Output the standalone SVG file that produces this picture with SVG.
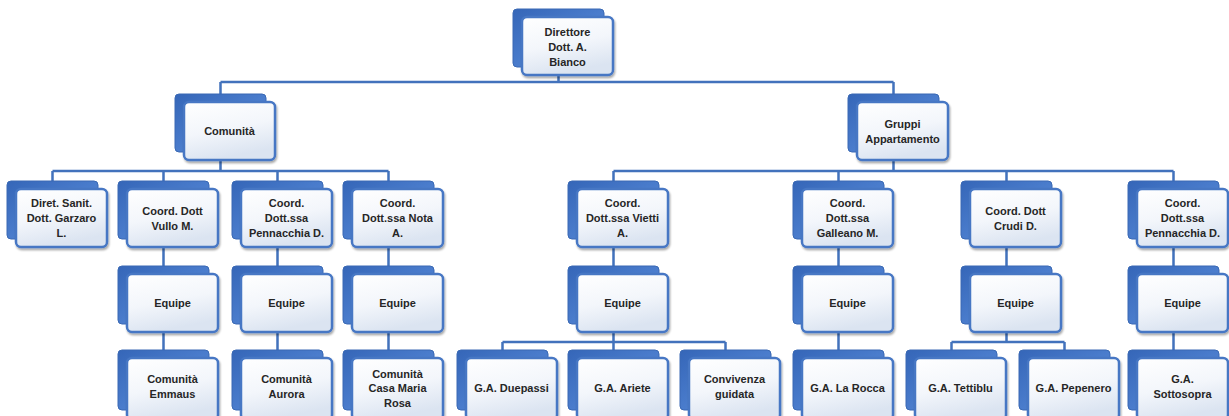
<svg xmlns="http://www.w3.org/2000/svg" width="1229" height="416" viewBox="0 0 1229 416">
<defs>
<linearGradient id="gBack" x1="0" y1="0" x2="1" y2="1">
<stop offset="0" stop-color="#3566b8"/>
<stop offset="0.5" stop-color="#4a7ccc"/>
<stop offset="1" stop-color="#5f8ed8"/>
</linearGradient>
<linearGradient id="gFront" x1="0" y1="0" x2="0.3" y2="1">
<stop offset="0" stop-color="#ffffff"/>
<stop offset="0.55" stop-color="#f3f6fb"/>
<stop offset="1" stop-color="#dbe4f1"/>
</linearGradient>
<filter id="sh" x="-10%" y="-10%" width="130%" height="130%">
<feGaussianBlur in="SourceAlpha" stdDeviation="1.2"/>
<feOffset dx="1" dy="1.5" result="b"/>
<feComponentTransfer><feFuncA type="linear" slope="0.35"/></feComponentTransfer>
<feMerge><feMergeNode/><feMergeNode in="SourceGraphic"/></feMerge>
</filter>
</defs>
<style>
.back{fill:url(#gBack);stroke:#3a69b4;stroke-width:1}
.front{fill:url(#gFront);stroke:#4677c4;stroke-width:2.5;filter:url(#sh)}
.t{font-family:"Liberation Sans",Arial,sans-serif;font-size:11px;font-weight:bold;fill:#262626;text-anchor:middle}
.c{fill:none;stroke:#4272bc;stroke-width:2.5}
</style>
<rect width="1229" height="416" fill="#ffffff"/>
<g id="connectors">
<path class="c" d="M558.5 75V82M220.5 82H893.5M220.5 82V95M893.5 82V95"/>
<path class="c" d="M220.5 160V171M52.5 171H388.5M52.5 171V182M163.5 171V182M277.5 171V182M388.5 171V182"/>
<path class="c" d="M893.5 160V171M613.5 171H1173.5M613.5 171V182M838.5 171V182M1006.5 171V182M1173.5 171V182"/>
<path class="c" d="M163.5 247V267M277.5 247V267M388.5 247V267M613.5 247V267M838.5 247V267M1006.5 247V267M1173.5 247V267"/>
<path class="c" d="M163.5 332V351M277.5 332V351M388.5 332V351M838.5 332V351M1173.5 332V351"/>
<path class="c" d="M613.5 332V342M502.5 342H725.5M502.5 342V351M613.5 342V351M725.5 342V351"/>
<path class="c" d="M1006.5 332V342M951.5 342H1064.5M951.5 342V351M1064.5 342V351"/>
</g>
<g id="n-direttore"><rect class="back" x="513" y="9" width="91" height="58" rx="4"/><rect class="front" x="522" y="17" width="91" height="58" rx="5"/><text class="t" x="567.5" y="36">Direttore</text><text class="t" x="567.5" y="51">Dott. A.</text><text class="t" x="567.5" y="66">Bianco</text></g>
<g id="n-comunita"><rect class="back" x="175" y="94" width="91" height="58" rx="4"/><rect class="front" x="184" y="102" width="91" height="58" rx="5"/><text class="t" x="229.5" y="135">Comunità</text></g>
<g id="n-gruppi"><rect class="back" x="848" y="94" width="91" height="58" rx="4"/><rect class="front" x="857" y="102" width="91" height="58" rx="5"/><text class="t" x="902.5" y="128">Gruppi</text><text class="t" x="902.5" y="143">Appartamento</text></g>
<g id="n-garzaro"><rect class="back" x="7" y="181" width="91" height="58" rx="4"/><rect class="front" x="16" y="189" width="91" height="58" rx="5"/><text class="t" x="61.5" y="207">Diret. Sanit.</text><text class="t" x="61.5" y="222">Dott. Garzaro</text><text class="t" x="61.5" y="237">L.</text></g>
<g id="n-vullo"><rect class="back" x="118" y="181" width="91" height="58" rx="4"/><rect class="front" x="127" y="189" width="91" height="58" rx="5"/><text class="t" x="172.5" y="214.5">Coord. Dott</text><text class="t" x="172.5" y="229.5">Vullo M.</text></g>
<g id="n-pennacchia1"><rect class="back" x="232" y="181" width="91" height="58" rx="4"/><rect class="front" x="241" y="189" width="91" height="58" rx="5"/><text class="t" x="286.5" y="207">Coord.</text><text class="t" x="286.5" y="222">Dott.ssa</text><text class="t" x="286.5" y="237">Pennacchia D.</text></g>
<g id="n-nota"><rect class="back" x="343" y="181" width="91" height="58" rx="4"/><rect class="front" x="352" y="189" width="91" height="58" rx="5"/><text class="t" x="397.5" y="207">Coord.</text><text class="t" x="397.5" y="222">Dott.ssa Nota</text><text class="t" x="397.5" y="237">A.</text></g>
<g id="n-vietti"><rect class="back" x="568" y="181" width="91" height="58" rx="4"/><rect class="front" x="577" y="189" width="91" height="58" rx="5"/><text class="t" x="622.5" y="207">Coord.</text><text class="t" x="622.5" y="222">Dott.ssa Vietti</text><text class="t" x="622.5" y="237">A.</text></g>
<g id="n-galleano"><rect class="back" x="793" y="181" width="91" height="58" rx="4"/><rect class="front" x="802" y="189" width="91" height="58" rx="5"/><text class="t" x="847.5" y="207">Coord.</text><text class="t" x="847.5" y="222">Dott.ssa</text><text class="t" x="847.5" y="237">Galleano M.</text></g>
<g id="n-crudi"><rect class="back" x="961" y="181" width="91" height="58" rx="4"/><rect class="front" x="970" y="189" width="91" height="58" rx="5"/><text class="t" x="1015.5" y="214.5">Coord. Dott</text><text class="t" x="1015.5" y="229.5">Crudi D.</text></g>
<g id="n-pennacchia2"><rect class="back" x="1128" y="181" width="91" height="58" rx="4"/><rect class="front" x="1137" y="189" width="91" height="58" rx="5"/><text class="t" x="1182.5" y="207">Coord.</text><text class="t" x="1182.5" y="222">Dott.ssa</text><text class="t" x="1182.5" y="237">Pennacchia D.</text></g>
<g id="n-equipe1"><rect class="back" x="118" y="266" width="91" height="58" rx="4"/><rect class="front" x="127" y="274" width="91" height="58" rx="5"/><text class="t" x="172.5" y="307">Equipe</text></g>
<g id="n-equipe2"><rect class="back" x="232" y="266" width="91" height="58" rx="4"/><rect class="front" x="241" y="274" width="91" height="58" rx="5"/><text class="t" x="286.5" y="307">Equipe</text></g>
<g id="n-equipe3"><rect class="back" x="343" y="266" width="91" height="58" rx="4"/><rect class="front" x="352" y="274" width="91" height="58" rx="5"/><text class="t" x="397.5" y="307">Equipe</text></g>
<g id="n-equipe4"><rect class="back" x="568" y="266" width="91" height="58" rx="4"/><rect class="front" x="577" y="274" width="91" height="58" rx="5"/><text class="t" x="622.5" y="307">Equipe</text></g>
<g id="n-equipe5"><rect class="back" x="793" y="266" width="91" height="58" rx="4"/><rect class="front" x="802" y="274" width="91" height="58" rx="5"/><text class="t" x="847.5" y="307">Equipe</text></g>
<g id="n-equipe6"><rect class="back" x="961" y="266" width="91" height="58" rx="4"/><rect class="front" x="970" y="274" width="91" height="58" rx="5"/><text class="t" x="1015.5" y="307">Equipe</text></g>
<g id="n-equipe7"><rect class="back" x="1128" y="266" width="91" height="58" rx="4"/><rect class="front" x="1137" y="274" width="91" height="58" rx="5"/><text class="t" x="1182.5" y="307">Equipe</text></g>
<g id="n-emmaus"><rect class="back" x="118" y="350" width="91" height="60" rx="4"/><rect class="front" x="127" y="358" width="91" height="62" rx="5"/><text class="t" x="172.5" y="383">Comunità</text><text class="t" x="172.5" y="398">Emmaus</text></g>
<g id="n-aurora"><rect class="back" x="232" y="350" width="91" height="60" rx="4"/><rect class="front" x="241" y="358" width="91" height="62" rx="5"/><text class="t" x="286.5" y="383">Comunità</text><text class="t" x="286.5" y="398">Aurora</text></g>
<g id="n-casa"><rect class="back" x="343" y="350" width="91" height="60" rx="4"/><rect class="front" x="352" y="358" width="91" height="62" rx="5"/><text class="t" x="397.5" y="378">Comunità</text><text class="t" x="397.5" y="392">Casa Maria</text><text class="t" x="397.5" y="407">Rosa</text></g>
<g id="n-duepassi"><rect class="back" x="457" y="350" width="91" height="60" rx="4"/><rect class="front" x="466" y="358" width="91" height="62" rx="5"/><text class="t" x="511.5" y="392">G.A. Duepassi</text></g>
<g id="n-ariete"><rect class="back" x="568" y="350" width="91" height="60" rx="4"/><rect class="front" x="577" y="358" width="91" height="62" rx="5"/><text class="t" x="622.5" y="392">G.A. Ariete</text></g>
<g id="n-convivenza"><rect class="back" x="680" y="350" width="91" height="60" rx="4"/><rect class="front" x="689" y="358" width="91" height="62" rx="5"/><text class="t" x="734.5" y="383">Convivenza</text><text class="t" x="734.5" y="398">guidata</text></g>
<g id="n-larocca"><rect class="back" x="793" y="350" width="91" height="60" rx="4"/><rect class="front" x="802" y="358" width="91" height="62" rx="5"/><text class="t" x="847.5" y="392">G.A. La Rocca</text></g>
<g id="n-tettiblu"><rect class="back" x="906" y="350" width="91" height="60" rx="4"/><rect class="front" x="915" y="358" width="91" height="62" rx="5"/><text class="t" x="960.5" y="392">G.A. Tettiblu</text></g>
<g id="n-pepenero"><rect class="back" x="1019" y="350" width="91" height="60" rx="4"/><rect class="front" x="1028" y="358" width="91" height="62" rx="5"/><text class="t" x="1073.5" y="392">G.A. Pepenero</text></g>
<g id="n-sottosopra"><rect class="back" x="1128" y="350" width="91" height="60" rx="4"/><rect class="front" x="1137" y="358" width="91" height="62" rx="5"/><text class="t" x="1182.5" y="383">G.A.</text><text class="t" x="1182.5" y="398">Sottosopra</text></g>
</svg>
